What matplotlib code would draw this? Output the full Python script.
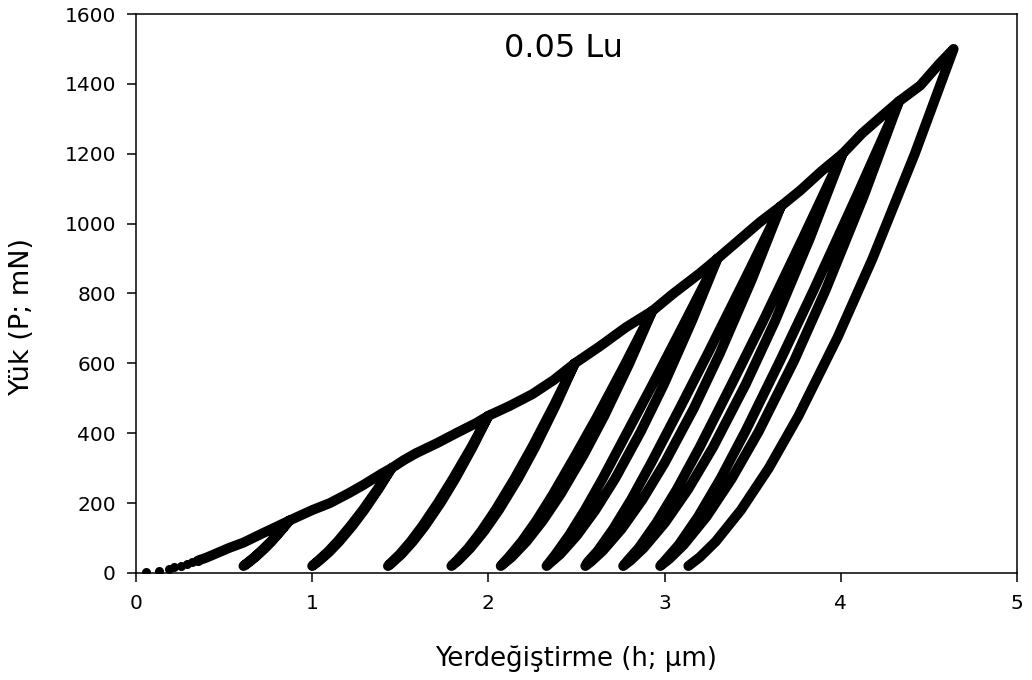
import matplotlib
matplotlib.use("Agg")
import matplotlib.pyplot as plt

plt.rcParams['font.family'] = ['DejaVu Sans']

# First sparse readings at the very start of loading
start_depth = [0.057, 0.132, 0.185, 0.217, 0.255, 0.29, 0.32, 0.35]
start_load = [2, 7, 11, 16, 21, 26, 30, 35]

# Loading branches that go beyond the previous maximum load (one per cycle)
env_depth = [
    [0.35, 0.40, 0.46, 0.53, 0.61, 0.72, 0.80, 0.87],
    [0.87, 1.00, 1.10, 1.21, 1.29, 1.40, 1.45],
    [1.45, 1.52, 1.59, 1.71, 1.82, 1.93, 2.00],
    [2.00, 2.12, 2.25, 2.37, 2.49],
    [2.49, 2.63, 2.78, 2.93],
    [2.93, 3.05, 3.20, 3.30],
    [3.30, 3.42, 3.54, 3.66],
    [3.66, 3.77, 3.89, 4.01],
    [4.01, 4.12, 4.24, 4.33],
    [4.33, 4.45, 4.56, 4.64],
]
env_load = [
    [35, 44, 57, 72, 87, 114, 133, 150],
    [150, 180, 200, 229, 252, 286, 300],
    [300, 323, 343, 372, 401, 429, 450],
    [450, 478, 512, 552, 600],
    [600, 648, 703, 750],
    [750, 800, 858, 900],
    [900, 952, 1004, 1050],
    [1050, 1095, 1150, 1200],
    [1200, 1258, 1311, 1350],
    [1350, 1395, 1458, 1500],
]

# Unloading branches, from peak load down to 20 mN
unload_load = [
    [150, 120, 90, 67.5, 45, 30, 20],
    [300, 240, 180, 135, 90, 60, 36, 20],
    [450, 360, 270, 202.5, 135, 90, 54, 27, 20],
    [600, 480, 360, 270, 180, 120, 72, 36, 20],
    [750, 600, 450, 337.5, 225, 150, 90, 45, 20],
    [900, 720, 540, 405, 270, 180, 108, 54, 20],
    [1050, 840, 630, 472.5, 315, 210, 126, 63, 31.5, 20],
    [1200, 960, 720, 540, 360, 240, 144, 72, 36, 20],
    [1350, 1080, 810, 607.5, 405, 270, 162, 81, 40.5, 20],
    [1500, 1200, 900, 675, 450, 300, 180, 90, 45, 20],
]
unload_depth = [
    [0.87, 0.821, 0.769, 0.725, 0.676, 0.639, 0.61],
    [1.45, 1.376, 1.295, 1.228, 1.153, 1.096, 1.042, 1.00],
    [2.00, 1.910, 1.812, 1.731, 1.640, 1.571, 1.507, 1.448, 1.43],
    [2.49, 2.382, 2.265, 2.168, 2.059, 1.976, 1.899, 1.829, 1.79],
    [2.93, 2.800, 2.658, 2.540, 2.409, 2.309, 2.216, 2.131, 2.07],
    [3.30, 3.154, 2.996, 2.865, 2.719, 2.607, 2.503, 2.408, 2.33],
    [3.66, 3.495, 3.315, 3.167, 3.000, 2.874, 2.756, 2.648, 2.580, 2.55],
    [4.01, 3.826, 3.626, 3.460, 3.275, 3.134, 3.002, 2.882, 2.807, 2.765],
    [4.33, 4.131, 3.914, 3.735, 3.534, 3.381, 3.239, 3.109, 3.027, 2.975],
    [4.64, 4.420, 4.180, 3.982, 3.760, 3.591, 3.433, 3.290, 3.199, 3.135],
]

# Reloading branches at the same load levels as the preceding unload (top-down)
reload_depth = [
    [0.87, 0.819, 0.765, 0.720, 0.671, 0.635, 0.61],
    [1.45, 1.371, 1.287, 1.218, 1.144, 1.088, 1.036, 1.00],
    [2.00, 1.903, 1.799, 1.716, 1.626, 1.559, 1.498, 1.443, 1.43],
    [2.49, 2.372, 2.248, 2.148, 2.040, 1.960, 1.887, 1.822, 1.79],
    [2.93, 2.778, 2.620, 2.495, 2.366, 2.273, 2.189, 2.115, 2.07],
    [3.30, 3.117, 2.932, 2.790, 2.648, 2.547, 2.458, 2.382, 2.33],
    [3.66, 3.455, 3.247, 3.087, 2.924, 2.810, 2.708, 2.620, 2.564, 2.55],
    [4.01, 3.786, 3.558, 3.380, 3.199, 3.070, 2.954, 2.854, 2.791, 2.765],
    [4.33, 4.091, 3.846, 3.655, 3.458, 3.317, 3.191, 3.081, 3.011, 2.975],
]

x_ticks = [0, 1, 2, 3, 4, 5]
y_ticks = [0, 200, 400, 600, 800, 1000, 1200, 1400, 1600]

# Assemble the whole load history as one continuous path
hs, ps = [], []
for i in range(len(env_depth)):
    e_h, e_p = env_depth[i], env_load[i]
    if i > 0:
        e_h, e_p = e_h[1:], e_p[1:]
    hs += list(e_h)
    ps += list(e_p)
    hs += unload_depth[i][1:]
    ps += unload_load[i][1:]
    if i < len(reload_depth):
        hs += reload_depth[i][::-1][1:]
        ps += unload_load[i][::-1][1:]

fig = plt.figure(figsize=(10.32, 6.8), dpi=100)
ax = fig.add_axes([0.1318, 0.1574, 0.8537, 0.822])

ax.plot(hs, ps, color='black', lw=7.2, solid_joinstyle='round',
        solid_capstyle='round', zorder=3)
ax.plot(start_depth, start_load, 'o', color='black', ms=6.5, mew=0, zorder=3)

ax.set_xlim(0, 5)
ax.set_ylim(0, 1600)
ax.set_xticks(x_ticks)
ax.set_yticks(y_ticks)
ax.tick_params(direction='out', length=6.5, width=1.1, labelsize=14.5,
               top=False, right=False)
ax.tick_params(axis='y', pad=8)
ax.tick_params(axis='x', pad=9)
for s in ax.spines.values():
    s.set_linewidth(1.1)

ax.set_xlabel('Yerdeğiştirme (h; μm)', fontsize=18.7)
ax.set_ylabel('Yük (P; mN)', fontsize=19.5)
ax.xaxis.set_label_coords(0.5, -0.13)
ax.yaxis.set_label_coords(-0.115, 0.458)
ax.text(0.485, 0.939, '0.05 Lu', transform=ax.transAxes, fontsize=23,
        ha='center', va='center')

fig.savefig('out.png', dpi=100)
